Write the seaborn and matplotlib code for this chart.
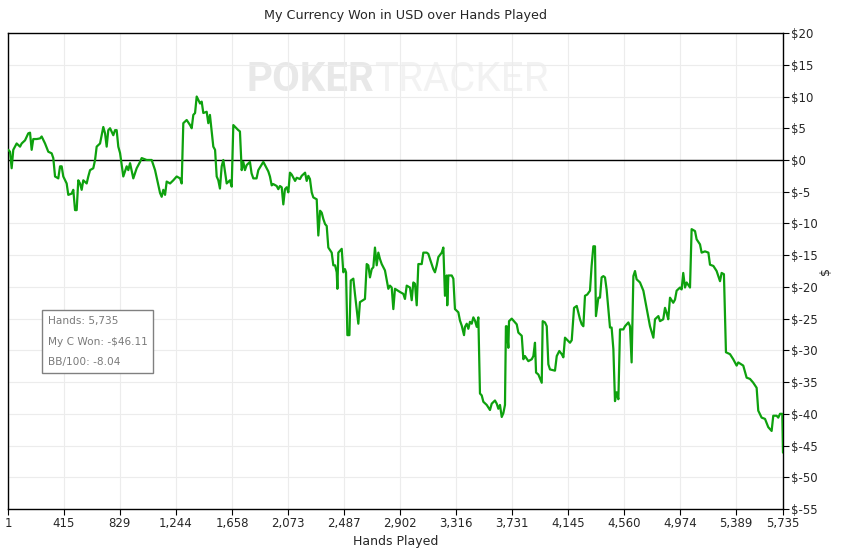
import numpy as np
import pandas as pd
import seaborn as sns
import matplotlib
matplotlib.use("Agg")
import matplotlib.pyplot as plt
from matplotlib.ticker import FuncFormatter

# hands played / cumulative winnings ($)
hands = [1, 3, 16, 28, 40, 65, 90, 102, 127, 151, 164, 176, 188, 213, 238, 250, 275, 299,
         324, 336, 349, 373, 386, 398, 410, 435, 447, 472, 484, 497, 509, 521, 534, 546,
         558, 583, 595, 608, 632, 645, 657, 682, 706, 719, 731, 743, 756, 780, 793, 805,
         817, 830, 854, 879, 891, 904, 928, 953, 978, 990, 1027, 1064, 1089, 1126, 1138,
         1150, 1163, 1175, 1200, 1224, 1249, 1274, 1286, 1298, 1323, 1348, 1360, 1372,
         1385, 1397, 1422, 1434, 1446, 1471, 1483, 1495, 1520, 1533, 1545, 1557, 1569,
         1582, 1594, 1619, 1643, 1656, 1668, 1705, 1717, 1730, 1742, 1754, 1767, 1791,
         1803, 1816, 1840, 1853, 1890, 1927, 1939, 1952, 1964, 1989, 2001, 2013, 2026,
         2038, 2050, 2063, 2075, 2087, 2100, 2125, 2137, 2161, 2174, 2199, 2211, 2223,
         2235, 2248, 2260, 2285, 2297, 2310, 2322, 2334, 2347, 2359, 2371, 2396, 2408,
         2421, 2433, 2438, 2445, 2470, 2482, 2494, 2502, 2512, 2527, 2537, 2556, 2568,
         2593, 2605, 2642, 2655, 2667, 2679, 2692, 2704, 2716, 2729, 2741, 2753, 2766,
         2790, 2815, 2827, 2840, 2852, 2864, 2901, 2926, 2938, 2951, 2975, 2988, 3000,
         3012, 3025, 3037, 3062, 3074, 3099, 3111, 3123, 3148, 3160, 3173, 3185, 3210,
         3222, 3234, 3247, 3251, 3259, 3284, 3296, 3308, 3333, 3345, 3358, 3375, 3382,
         3395, 3407, 3419, 3432, 3444, 3456, 3469, 3481, 3493, 3506, 3518, 3543, 3567,
         3580, 3604, 3617, 3629, 3641, 3654, 3666, 3678, 3685, 3691, 3703, 3708, 3728,
         3752, 3765, 3777, 3802, 3814, 3826, 3851, 3876, 3888, 3900, 3908, 3925, 3950,
         3957, 3974, 3987, 3999, 4011, 4048, 4061, 4080, 4098, 4110, 4122, 4159, 4172,
         4189, 4209, 4233, 4246, 4258, 4270, 4287, 4307, 4319, 4332, 4344, 4351, 4369,
         4381, 4393, 4406, 4418, 4430, 4455, 4467, 4480, 4492, 4504, 4517, 4529, 4554,
         4566, 4591, 4603, 4615, 4628, 4640, 4652, 4677, 4702, 4726, 4751, 4776, 4788,
         4813, 4825, 4849, 4862, 4874, 4886, 4899, 4923, 4936, 4948, 4973, 4985, 4997,
         5010, 5022, 5047, 5059, 5084, 5096, 5121, 5133, 5158, 5183, 5195, 5220, 5244,
         5269, 5281, 5298, 5313, 5343, 5367, 5392, 5404, 5441, 5466, 5491, 5515, 5540,
         5552, 5577, 5602, 5626, 5651, 5663, 5688, 5700, 5713, 5730, 5735]
won = [1.6, 1.6, 1.3, -1.3, 1.6, 2.6, 2.1, 2.6, 3.1, 4.2, 4.3, 1.6, 3.3, 3.3, 3.4, 3.7,
       2.6, 1.3, 1.05, 0.3, -2.6, -2.9, -1.0, -1.0, -2.6, -3.7, -5.5, -5.3, -4.7, -7.9,
       -7.9, -3.2, -3.7, -4.7, -3.2, -3.7, -2.6, -1.6, -1.3, 0.0, 2.1, 2.6, 5.2, 4.2, 2.1,
       4.7, 5.0, 3.9, 4.7, 4.7, 2.1, 1.1, -2.6, -1.0, -1.6, -0.5, -2.9, -1.3, -0.3, 0.3,
       0.0, 0.0, -1.6, -5.2, -5.8, -4.7, -5.5, -3.4, -3.7, -3.2, -2.6, -2.9, -3.7, 5.8,
       6.3, 5.5, 5.0, 7.1, 7.4, 10.0, 8.9, 9.2, 7.4, 7.6, 5.8, 7.1, 2.1, 1.6, -2.6, -3.2,
       -4.5, -1.0, 0.0, -3.7, -3.2, -4.2, 5.5, 4.7, 4.5, -1.6, -0.3, -1.6, -0.8, -0.3,
       -2.1, -2.9, -2.9, -1.6, -0.3, -1.8, -2.6, -4.0, -3.8, -4.1, -4.6, -4.1, -4.3, -7.0,
       -4.6, -4.3, -5.1, -2.0, -2.3, -3.3, -2.8, -3.0, -2.5, -2.0, -3.3, -2.5, -3.0, -5.1,
       -5.9, -6.2, -11.9, -8.0, -8.3, -9.3, -10.1, -10.4, -13.8, -14.6, -16.6, -16.6,
       -17.7, -20.3, -14.6, -14.0, -17.7, -17.2, -17.7, -27.6, -27.6, -19.0, -18.7, -21.1,
       -25.8, -22.4, -21.9, -16.4, -16.6, -18.5, -17.2, -16.9, -13.8, -16.6, -14.6, -15.6,
       -16.4, -17.4, -20.3, -19.8, -20.1, -23.5, -20.3, -20.8, -21.1, -21.9, -19.8, -20.1,
       -22.1, -19.3, -19.5, -22.9, -16.4, -16.4, -14.6, -14.6, -14.8, -15.6, -17.2, -17.7,
       -16.6, -15.3, -14.6, -13.8, -21.4, -18.2, -22.9, -18.2, -18.2, -18.7, -23.5, -24.0,
       -25.3, -26.1, -27.6, -26.3, -25.8, -26.6, -25.5, -25.8, -24.8, -25.3, -26.3, -24.8,
       -36.8, -37.1, -38.1, -38.6, -39.4, -38.4, -37.9, -38.4, -39.2, -38.6, -40.5, -39.9,
       -38.6, -26.2, -26.2, -29.6, -25.4, -25.0, -25.6, -25.9, -27.2, -27.7, -31.4, -30.9,
       -31.7, -31.4, -30.9, -28.8, -33.5, -33.8, -35.1, -25.4, -25.6, -26.2, -32.2, -33.0,
       -33.2, -30.9, -30.1, -30.6, -31.1, -28.0, -28.8, -28.4, -23.3, -23.0, -25.1, -25.9,
       -26.2, -21.4, -21.2, -20.6, -16.7, -13.6, -13.6, -24.6, -21.7, -21.7, -18.5, -18.3,
       -18.5, -20.4, -26.4, -26.4, -29.8, -38.0, -36.6, -37.7, -26.7, -26.7, -26.2, -25.6,
       -26.2, -31.9, -18.3, -17.5, -18.8, -19.3, -20.6, -23.3, -26.2, -28.0, -25.1, -24.6,
       -25.4, -25.1, -23.3, -24.1, -25.1, -21.7, -22.5, -22.0, -20.6, -20.1, -20.4, -17.8,
       -20.1, -19.3, -20.1, -10.9, -11.2, -12.5, -13.3, -14.6, -14.4, -14.6, -16.5, -16.7,
       -17.5, -19.1, -17.8, -18.0, -30.3, -30.6, -31.4, -32.4, -31.9, -32.4, -34.3, -34.5,
       -35.1, -35.9, -39.5, -40.6, -40.8, -42.1, -42.7, -40.3, -40.3, -40.6, -40.0, -40.0,
       -46.11]

x_ticks = [1, 415, 829, 1244, 1658, 2073, 2487, 2902, 3316, 3731, 4145, 4560, 4974, 5389, 5735]
y_ticks = list(range(-55, 21, 5))

df = pd.DataFrame({"Hands": hands, "Won": won})

sns.set_style("white")
plt.rcParams["font.family"] = ["DejaVu Sans"]

fig = plt.figure(figsize=(8.52, 5.51), dpi=100)
ax = fig.add_axes([0.0094, 0.0762, 0.9096, 0.8638])

ax.grid(True, color="#ececec", linewidth=0.8)
ax.set_axisbelow(True)

# watermark
ax.text(0.472, 0.902, "POKER", transform=ax.transAxes, fontsize=29, fontweight="bold",
        family="Roboto", color="#e8e8e8", ha="right", va="center", zorder=0)
ax.text(0.472, 0.902, "TRACKER", transform=ax.transAxes, fontsize=29,
        family="Roboto", color="#f2f2f2", ha="left", va="center", zorder=0)

ax.axhline(0, color="black", linewidth=1, zorder=1)
sns.lineplot(data=df, x="Hands", y="Won", ax=ax, color="#0ea10e", linewidth=1.6,
             zorder=3)

ax.set_xlim(1, 5735)
ax.set_ylim(-55, 20)
ax.set_xticks(x_ticks)
ax.xaxis.set_major_formatter(FuncFormatter(lambda v, p: f"{int(v):,}"))
ax.set_yticks(y_ticks)
ax.yaxis.set_major_formatter(FuncFormatter(lambda v, p: f"$-{abs(int(v))}" if v < 0 else f"${int(v)}"))
ax.yaxis.tick_right()
ax.yaxis.set_label_position("right")
ax.tick_params(axis="both", labelsize=8.5, length=4, width=0.8, color="black",
               direction="out", pad=2)
ax.tick_params(axis="y", left=False, right=True)
ax.tick_params(axis="x", bottom=True, top=False)

for s in ax.spines.values():
    s.set_color("black")
    s.set_linewidth(1)

ax.set_xlabel("Hands Played", fontsize=9, labelpad=3)
ax.set_ylabel("$", fontsize=9, labelpad=1)
ax.set_title("My Currency Won in USD over Hands Played", fontsize=9.2, pad=10, x=0.5135)

# info box
ax.text(0.051, 0.406, "Hands: 5,735\nMy C Won: -$46.11\nBB/100: -8.04",
        transform=ax.transAxes, fontsize=7.6, color="#7a7a7a", ha="left", va="top",
        linespacing=2.35,
        bbox=dict(boxstyle="square,pad=0.5", facecolor="white", edgecolor="#808080",
                  linewidth=1))

fig.savefig("out.png", dpi=100)
